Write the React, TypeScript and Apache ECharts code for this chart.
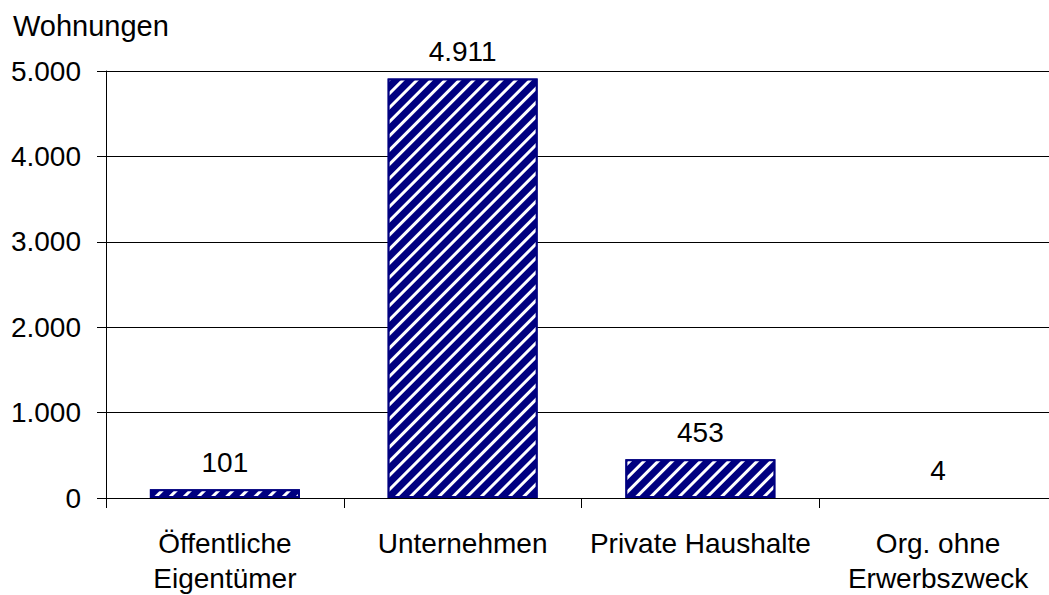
import React, { useEffect, useRef } from "react";
import * as echarts from "echarts";

const categories = ["Öffentliche\nEigentümer", "Unternehmen", "Private Haushalte", "Org. ohne\nErwerbszweck"];
const values = [101, 4911, 453, 4];
const yTicks = [0, 1000, 2000, 3000, 4000, 5000];
const yTitle = "Wohnungen";

const fmt = (v: number) => String(v).replace(/\B(?=(\d{3})+(?!\d))/g, ".");

export default function App() {
  const ref = useRef<HTMLDivElement>(null);
  useEffect(() => {
    document.body.style.margin = "0";
    const chart = echarts.init(ref.current!, undefined, { renderer: "svg" });
    const font = "Liberation Sans, Arial, sans-serif";
    chart.setOption({
      animation: false,
      backgroundColor: "#fff",
      textStyle: { fontFamily: font },
      graphic: [
        {
          type: "text",
          left: 13,
          top: 11,
          style: { text: yTitle, fontSize: 29, fontFamily: font, fill: "#000" },
        },
      ],
      grid: { left: 106, top: 71, width: 951, height: 427, containLabel: false, outerBoundsMode: "none" },
      xAxis: {
        type: "category",
        data: categories,
        axisLine: { lineStyle: { color: "#000", width: 1 } },
        axisTick: { show: true, length: 10, alignWithLabel: false, lineStyle: { color: "#000" } },
        axisLabel: { color: "#000", fontSize: 28, lineHeight: 35, margin: 28, interval: 0, fontFamily: font },
      },
      yAxis: {
        type: "value",
        min: 0,
        max: yTicks[yTicks.length - 1],
        interval: yTicks[1] - yTicks[0],
        axisLine: { show: true, lineStyle: { color: "#000", width: 1 } },
        axisTick: { show: true, length: 9, lineStyle: { color: "#000" } },
        axisLabel: { color: "#000", fontSize: 28, margin: 25, formatter: (v: number) => fmt(v), fontFamily: font },
        splitLine: { show: true, lineStyle: { color: "#000", width: 1 } },
      },
      series: [
        {
          type: "bar",
          data: values.map((v) => ({
            value: v,
            itemStyle: v < 20 ? { borderWidth: 0, color: "rgba(0,0,0,0)", decal: "none" } : undefined,
          })),
          barWidth: 150,
          itemStyle: {
            color: "#000080",
            borderColor: "#000080",
            borderWidth: 2,
            decal: {
              symbol: "rect",
              color: "#ffffff",
              dashArrayX: [1, 0],
              dashArrayY: [3, 7],
              rotation: -Math.PI / 4,
            },
          },
          label: {
            show: true,
            position: "top",
            distance: 13,
            color: "#000",
            fontSize: 28,
            fontFamily: font,
            formatter: (p: any) => fmt(p.value),
          },
        },
      ],
    });
    return () => chart.dispose();
  }, []);
  return <div ref={ref} style={{ position: "fixed", left: 0, top: 0, width: 1049, height: 595 }} />;
}
